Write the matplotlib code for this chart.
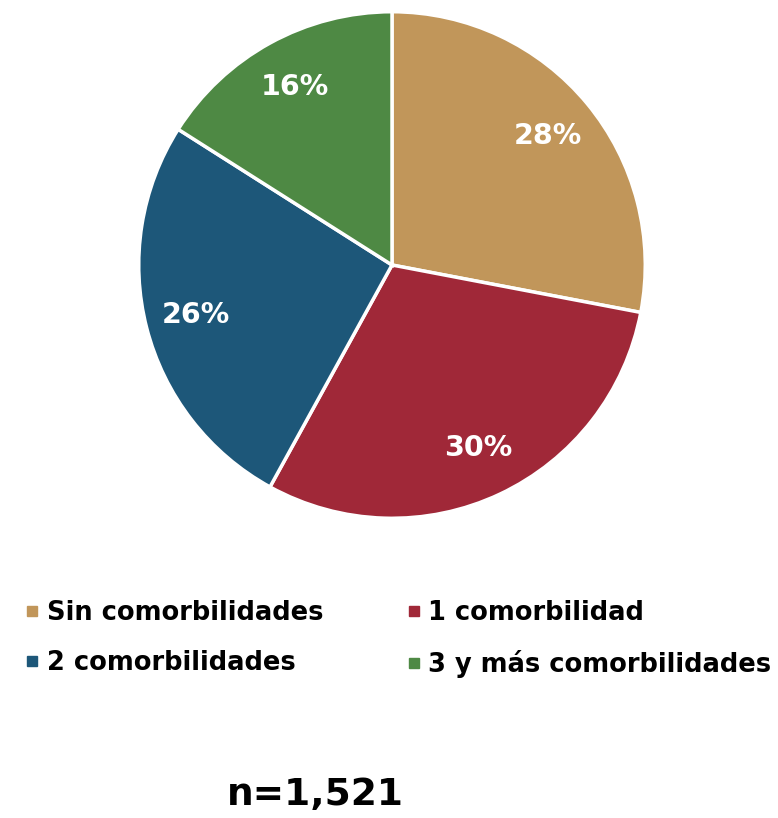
import matplotlib.pyplot as plt
from matplotlib.lines import Line2D

categorias = ['Sin comorbilidades', '1 comorbilidad', '2 comorbilidades', '3 y más comorbilidades']
porcentajes = [28, 30, 26, 16]
colores = ['#C1965A', '#A02838', '#1D5779', '#4E8944']
total_n = '1,521'

plt.rcParams['font.family'] = ['DejaVu Sans']

fig = plt.figure(figsize=(7.78, 8.18), dpi=100)
ax = fig.add_axes([140 / 778, 1 - 517 / 818, 504 / 778, 504 / 818])

wedges, textos, autotextos = ax.pie(
    porcentajes, colors=colores, startangle=90, counterclock=False,
    autopct='%1.0f%%', pctdistance=0.8,
    wedgeprops={'edgecolor': 'white', 'linewidth': 2.5},
    textprops={'color': 'white', 'fontsize': 20.5, 'fontweight': 'bold'})
ax.set_xlim(-0.995, 0.995)
ax.set_ylim(-0.995, 0.995)
ax.set_aspect('equal')

# leyenda en dos columnas (orden por filas)
orden = [0, 2, 1, 3]
handles = [Line2D([], [], marker='s', linestyle='', color=colores[i], markersize=7.5) for i in orden]
labels = [categorias[i] for i in orden]
fig.legend(handles, labels, loc='upper left', bbox_to_anchor=(26 / 778, 1 - 600 / 818),
           ncol=2, frameon=False, borderpad=0, borderaxespad=0,
           handlelength=0.45, handletextpad=0.35,
           columnspacing=3.3, labelspacing=0.95,
           prop={'size': 18.5, 'weight': 'bold'})

fig.text(315 / 778, 1 - 795 / 818, f'n={total_n}', ha='center', va='center',
         fontsize=27, fontweight='bold')

fig.savefig('out.png', dpi=100)
